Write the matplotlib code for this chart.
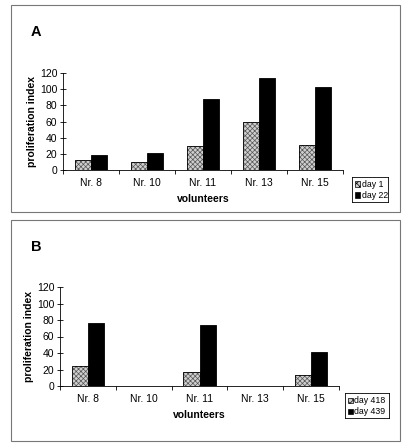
import numpy as np
import matplotlib.pyplot as plt
from matplotlib.patches import Rectangle

plt.rcParams['font.family'] = ['Liberation Sans', 'DejaVu Sans']
plt.rcParams['hatch.linewidth'] = 0.5

volunteers = ['Nr. 8', 'Nr. 10', 'Nr. 11', 'Nr. 13', 'Nr. 15']
day1 = [12, 10, 30, 60, 31]
day22 = [18, 21, 88, 114, 103]
day418 = [24, np.nan, 17, np.nan, 13]
day439 = [76, np.nan, 74, np.nan, 41]

W, H = 409, 445
fig = plt.figure(figsize=(W / 100, H / 100), dpi=100)


def px(x0, y0, x1, y1):
    # pixel box -> figure fraction [left, bottom, width, height]
    return [x0 / W, 1 - y1 / H, (x1 - x0) / W, (y1 - y0) / H]


def panel(rect, vals1, vals2, labels, letter, letter_xy, leg_rect):
    ax = fig.add_axes(rect)
    x = np.arange(len(volunteers))
    bw = 0.29
    ax.bar(x - bw / 2, vals1, bw, color='#cfcfcf', edgecolor='#555555',
           hatch='xxxxxxx', linewidth=0)
    ax.bar(x - bw / 2, vals1, bw, facecolor='none', edgecolor='black',
           linewidth=0.6)
    ax.bar(x + bw / 2, vals2, bw, color='black', edgecolor='black',
           linewidth=0.6)
    ax.set_xlim(-0.5, len(volunteers) - 0.5)
    ax.set_ylim(0, 120)
    ax.set_yticks(range(0, 121, 20))
    ax.set_xticks(np.arange(-0.5, len(volunteers)), minor=False)
    ax.set_xticklabels([])
    ax.set_xticks(x, minor=True)
    ax.set_xticklabels(volunteers, minor=True)
    ax.tick_params(axis='x', which='minor', length=0, pad=6, labelsize=7.5)
    ax.tick_params(axis='x', which='major', direction='out', length=3, width=0.6)
    ax.tick_params(axis='y', direction='inout', length=4, width=0.6, labelsize=7.5, pad=2)
    for s in ['top', 'right']:
        ax.spines[s].set_visible(False)
    for s in ['left', 'bottom']:
        ax.spines[s].set_linewidth(0.6)
    ax.set_ylabel('proliferation index', fontsize=7.5, fontweight='bold', labelpad=2)
    ax.set_xlabel('volunteers', fontsize=7.5, fontweight='bold', labelpad=4)
    fig.text(letter_xy[0] / W, 1 - letter_xy[1] / H, letter, fontsize=10.5,
             fontweight='bold', ha='left', va='center')
    # legend
    lax = fig.add_axes(leg_rect)
    lax.set_xlim(0, 1)
    lax.set_ylim(0, 1)
    lax.set_xticks([])
    lax.set_yticks([])
    for s in lax.spines.values():
        s.set_linewidth(0.6)
    lw = leg_rect[2] * W
    sq = 5.0 / lw
    x0 = 2.5 / lw
    tx = x0 + sq + 2.0 / lw
    lax.add_patch(Rectangle((x0, 0.6), sq, 0.22, facecolor='#cfcfcf',
                            edgecolor='black', hatch='xxxxx', linewidth=0.5))
    lax.add_patch(Rectangle((x0, 0.16), sq, 0.22, facecolor='black',
                            edgecolor='black', linewidth=0.5))
    lax.text(tx, 0.71, labels[0], fontsize=6.3, va='center')
    lax.text(tx, 0.27, labels[1], fontsize=6.3, va='center')
    return ax


# outer frames
fig.patches.append(Rectangle((11 / W, 1 - 212 / H), 389 / W, 207 / H,
                             transform=fig.transFigure, fill=False,
                             edgecolor='#777777', linewidth=0.8))
fig.patches.append(Rectangle((11 / W, 1 - 441 / H), 389 / W, 221 / H,
                             transform=fig.transFigure, fill=False,
                             edgecolor='#777777', linewidth=0.8))

panel(px(63, 73, 343, 170), day1, day22, ['day 1', 'day 22'], 'A',
      (31, 32), px(352, 177, 388, 202))
panel(px(60, 287, 339, 386), day418, day439, ['day 418', 'day 439'], 'B',
      (31, 247), px(345, 393, 389, 418))

fig.savefig('out.png', dpi=100)
